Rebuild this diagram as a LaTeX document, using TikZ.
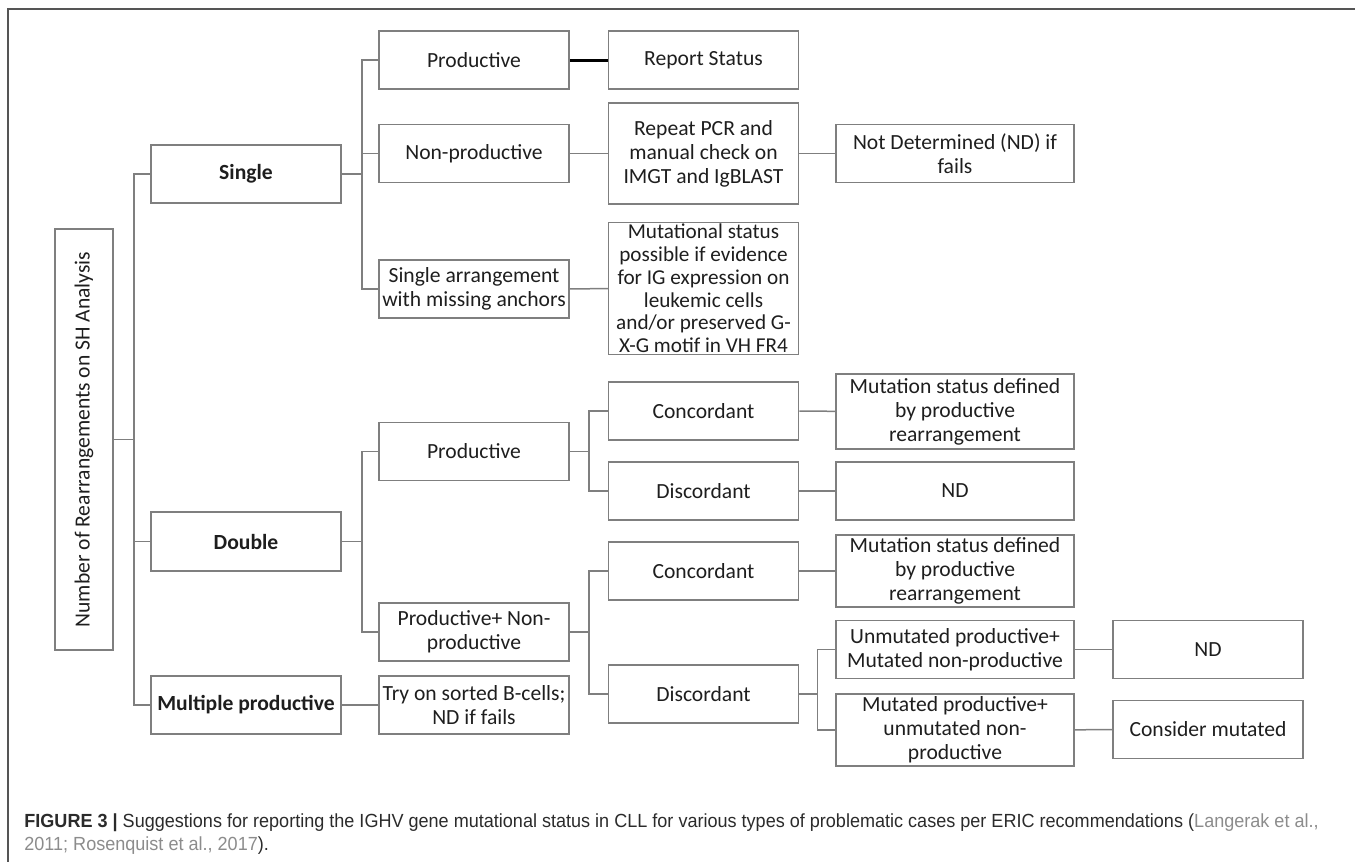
\documentclass[tikz,border=0pt]{standalone}
\usepackage{fontspec}
\setmainfont{Carlito}
\newfontfamily\capfont[FakeStretch=0.95]{Liberation Sans}
\usepackage{tikz}
\definecolor{boxgray}{HTML}{7F7F7F}
\definecolor{txtgray}{HTML}{1E1E1E}
\definecolor{capgray}{HTML}{2B2B2B}
\definecolor{refgray}{HTML}{8C8C8C}
\definecolor{framegray}{HTML}{555555}
\tikzset{
  box/.style={draw=boxgray, line width=0.75pt, text=txtgray, align=center,
    inner sep=1pt, minimum width=95pt, minimum height=29pt,
    font=\fontsize{10.8}{12}\selectfont},
  topbox/.style={box, font=\fontsize{10.8}{12}\selectfont\bfseries},
  widebox/.style={box, minimum width=119pt},
  link/.style={draw=boxgray, line width=0.75pt},
  captext/.style={anchor=base west, inner sep=0pt, text=capgray,
    font=\capfont\fontsize{9.5}{11}\selectfont},
}

\begin{document}
\begin{tikzpicture}[x=0.5pt,y=-0.5pt]
  \useasboundingbox (0,0) rectangle (1355,862);
  \draw[framegray, line width=1pt] (1355,9) -- (8,9) -- (8,862);

  % root and first level
  \node[box, rotate=90, minimum width=210.5pt] (root) at (84,439.5) {Number of Rearrangements on SH Analysis};
  \node[topbox] (single) at (246,174) {Single};
  \node[topbox, minimum height=29.5pt] (double) at (246,541.5) {Double};
  \node[topbox] (multi) at (246,705) {Multiple productive};

  % second level
  \node[box] (sprod) at (474,60) {Productive};
  \node[box] (snonprod) at (474,153.5) {Non-productive};
  \node[box] (sanchor) at (474,289) {Single arrangement\\with missing anchors};
  \node[box] (dprod) at (474,451.5) {Productive};
  \node[box] (dmixed) at (474,632) {Productive+ Non-\\productive};
  \node[box] (sorted) at (474,705) {Try on sorted B-cells;\\ND if fails};

  % third level
  \node[box] (report) at (703.5,60) {Report Status};
  \node[box, minimum height=50.5pt] (repeat) at (703.5,153.5) {Repeat PCR and\\manual check on\\IMGT and IgBLAST};
  \node[box, inner ysep=0.8pt, font=\fontsize{10.6}{11.4}\selectfont] (evidence) at (703.5,288.5) {Mutational status\\possible if evidence\\for IG expression on\\leukemic cells\\and/or preserved G-\\X-G motif in VH FR4};
  \node[box] (pconc) at (703.5,411) {Concordant};
  \node[box] (pdisc) at (703.5,491) {Discordant};
  \node[box] (mconc) at (703.5,571) {Concordant};
  \node[box] (mdisc) at (703.5,694) {Discordant};

  % fourth level
  \node[widebox] (notdet) at (955,153.5) {Not Determined (ND) if\\fails};
  \node[widebox, minimum height=37.5pt] (pconcres) at (955,411.5) {Mutation status defined\\by productive\\rearrangement};
  \node[widebox] (pdiscres) at (955,491) {ND};
  \node[widebox, minimum height=36pt] (mconcres) at (955,571) {Mutation status defined\\by productive\\rearrangement};
  \node[widebox] (unmut) at (955,649.5) {Unmutated productive+\\Mutated non-productive};
  \node[widebox, minimum height=36pt] (mut) at (955,730) {Mutated productive+\\unmutated non-\\productive};

  % fifth level
  \node[box] (unmutres) at (1208,649.5) {ND};
  \node[box] (mutres) at (1208,729.5) {Consider mutated};

  % connectors
  \draw[link] (root.south) -- ++(20,0) coordinate (trunk) |- (single.west);
  \draw[link] (trunk) |- (double.west);
  \draw[link] (trunk) |- (multi.west);
  \draw[link] (single.east) -- ++(20,0) coordinate (sfork) |- (sprod.west);
  \draw[link] (sfork) |- (snonprod.west);
  \draw[link] (sfork) |- (sanchor.west);
  \draw[link] (double.east) -- ++(20,0) coordinate (dfork) |- (dprod.west);
  \draw[link] (dfork) |- (dmixed.west);
  \draw[link] (multi) -- (sorted);
  \draw[black, line width=1.5pt] (sprod) -- (report);
  \draw[link] (snonprod) -- (repeat);
  \draw[link] (sanchor) -- (evidence);
  \draw[link] (dprod.east) -- ++(19,0) coordinate (pfork) |- (pconc.west);
  \draw[link] (pfork) |- (pdisc.west);
  \draw[link] (dmixed.east) -- ++(19,0) coordinate (mfork) |- (mconc.west);
  \draw[link] (mfork) |- (mdisc.west);
  \draw[link] (repeat) -- (notdet);
  \draw[link] (pconc) -- (pconcres);
  \draw[link] (pdisc) -- (pdiscres);
  \draw[link] (mconc) -- (mconcres);
  \draw[link] (mdisc.east) -- ++(18,0) coordinate (dsfork) |- (unmut.west);
  \draw[link] (dsfork) |- (mut.west);
  \draw[link] (unmut) -- (unmutres);
  \draw[link] (mut) -- (mutres);

  % caption
  \node[captext] (cap1) at (24,827) {\textbf{FIGURE 3 |} Suggestions for reporting the IGHV gene mutational status in CLL for various types of problematic cases per ERIC recommendations (\textcolor{refgray}{Langerak et al.,}};
  \node[captext] (cap2) at (24,850) {\textcolor{refgray}{2011; Rosenquist et al., 2017}).};
\end{tikzpicture}
\end{document}
